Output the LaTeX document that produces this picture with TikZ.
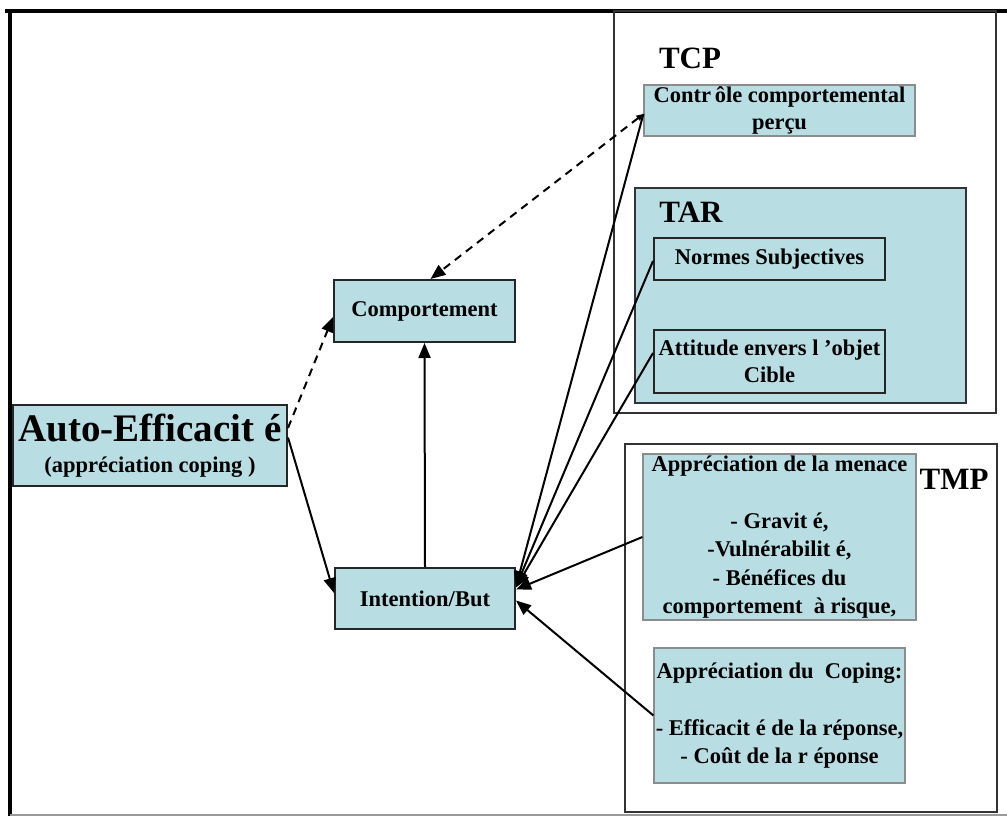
\documentclass[tikz,border=0pt]{standalone}
\usepackage{fontspec}
\setmainfont{Liberation Serif}
\usetikzlibrary{arrows.meta,calc}
\definecolor{boxfill}{RGB}{184,222,227}
\begin{document}
\begin{tikzpicture}[x=1pt,y=-1pt,
  box/.style={draw=black!85, line width=2pt, fill=boxfill, inner sep=0pt, align=center,
    font=\bfseries\fontsize{22.5}{27}\selectfont},
  softbox/.style={box, draw=black!45, line width=1.2pt},
  lsoftbox/.style={softbox, font=\bfseries\fontsize{22.5}{28.5}\selectfont},
  frame/.style={draw=black!80, line width=1.8pt},
  title/.style={font=\bfseries\fontsize{31}{31}\selectfont, inner sep=0pt},
  conn/.style={line width=2pt, -{Triangle[length=15pt,width=12pt]}},
  dconn/.style={conn, dash pattern=on 8pt off 6pt}]
\useasboundingbox (0,0) rectangle (1007,816);
\fill[white] (0,0) rectangle (1007,816);
% outer frame
\draw[line width=4pt] (5,11) -- (1007,11);
\draw[line width=4pt] (10,11) -- (10,816);
\draw[black!40, line width=1.5pt] (10,815) -- (1007,815);
% theory frames
\draw[frame] (614,11) rectangle (996,413);
\draw[frame] (625,444) rectangle (997,812);
\draw[frame, fill=boxfill] (635,188) rectangle (966,403);
% titles
\node[title] (tcp) at (690,58) {TCP};
\node[title] (tar) at (691,212) {TAR};
\node[title] (tmp) at (954,479) {TMP};
% boxes
\node[box, minimum width=274pt, minimum height=81pt] (auto) at (150,445.5)
  {{\fontsize{39}{40}\selectfont Auto-Efficacit é}\\[4pt](appréciation coping )};
\node[box, minimum width=181pt, minimum height=62pt] (comp) at (424.5,311) {Comportement};
\node[box, minimum width=180pt, minimum height=61pt] (intent) at (425,598.5) {Intention/But};
\node[softbox, minimum width=271pt, minimum height=51pt] (ctrl) at (779.5,110.5)
  {Contr\,ôle comportemental\\perçu};
\node[box, minimum width=231pt, minimum height=42pt] (normes) at (769.5,259) {Normes Subjectives};
\node[box, minimum width=231pt, minimum height=63pt] (attitude) at (769.5,361.5)
  {Attitude envers l ’objet\\Cible};
\node[lsoftbox, minimum width=273pt, minimum height=166pt] (menace) at (779.5,537)
  {Appréciation de la menace\\[28.5pt]- Gravit é,\\-Vulnérabilit é,\\- Bénéfices du\\comportement \ à risque,};
\node[lsoftbox, minimum width=251pt, minimum height=135pt] (coping) at (779.5,715.5)
  {Appréciation du \ Coping:\\[28.5pt]- Efficacit é de la réponse,\\- Coût de la r éponse};
% connectors
\draw[dconn] ([yshift=17.5pt]auto.east) -- ([yshift=-6pt]comp.west);
\draw[conn] ([yshift=8pt]auto.east) -- ([yshift=5.5pt]intent.west);
\draw[conn] (intent.north) -- (comp.south);
\draw[dconn, {Triangle[length=7pt,width=6pt]}-{Triangle[length=15pt,width=12pt]}]
  ([yshift=-3.5pt]ctrl.west) -- ([xshift=6pt]comp.north);
\draw[conn] ([yshift=-3.5pt]ctrl.west) -- ([yshift=12pt]intent.east);
\draw[conn] ([yshift=-2pt]normes.west) -- ([yshift=12pt]intent.east);
\draw[conn] ([yshift=8.5pt]attitude.west) -- ([yshift=11pt]intent.east);
\draw[conn] (menace.west) -- ([yshift=9pt]intent.east);
\draw[conn] (coping.west) -- ([yshift=-2pt]intent.east);
\end{tikzpicture}
\end{document}
